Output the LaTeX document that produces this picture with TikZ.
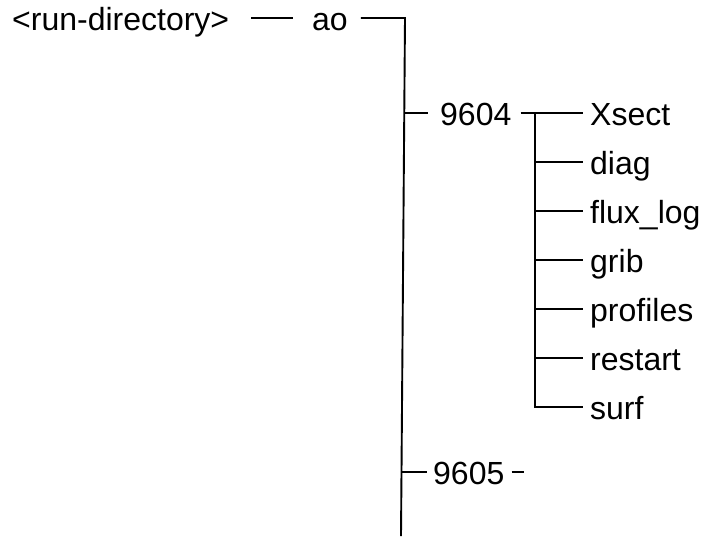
\documentclass[tikz,border=0pt]{standalone}
\usepackage{fontspec}
\setmainfont{Liberation Sans}
\usetikzlibrary{calc}
\begin{document}
\begin{tikzpicture}[x=1pt,y=-1pt,
  lbl/.style={anchor=base west, inner sep=0pt, font=\fontsize{32}{36}\selectfont},
  ln/.style={line width=1.9pt, line cap=butt}]
\useasboundingbox (0,0) rectangle (707,536);
% labels
\node[lbl] (rd) at (12,30) {<run-directory>};
\node[lbl] (ao) at (312,30) {ao};
\node[lbl] (n9604) at (440,125) {9604};
\node[lbl] (n9605) at (433,484) {9605};
\foreach \n/\t [count=\i from 0] in {xs/Xsect,di/diag,fl/flux\_log,gr/grib,pr/profiles,re/restart,su/surf}{
  \node[lbl] (\n) at (590,{113+49*\i+12}) {\t};
}
% coordinates
\coordinate (vtop) at (405,18);
\coordinate (vbot) at (401,536);
\coordinate (t9604) at (405,113);
\coordinate (t9605) at (402,472);
\coordinate (s9604) at (535,113);
\coordinate (ssurf) at (535,407);
\coordinate (e9605) at ($(n9605.base east)+(19,-12)$);
% connectors
\draw[ln] ($(rd.base east)+(22,-12)$) -- ($(ao.base west)+(-19,-12)$);
\draw[ln] ($(ao.base east)+(13,-12)$) -- (vtop) -- (vbot);
\draw[ln] (t9604) -- ($(n9604.base west)+(-12,-12)$);
\draw[ln] (t9605) -- ($(n9605.base west)+(-6,-12)$);
\draw[ln] ($(n9605.base east)+(7,-12)$) -- (e9605);
\draw[ln] ($(n9604.base east)+(9,-12)$) -- ($(xs.base west)+(-7,-12)$);
\draw[ln] (s9604) -- (ssurf) -- ($(su.base west)+(-7,-12)$);
\foreach \n in {di,fl,gr,pr,re}{
  \draw[ln] (s9604 |- {$(\n.base west)+(0,-12)$}) -- ($(\n.base west)+(-7,-12)$);
}
\end{tikzpicture}
\end{document}
